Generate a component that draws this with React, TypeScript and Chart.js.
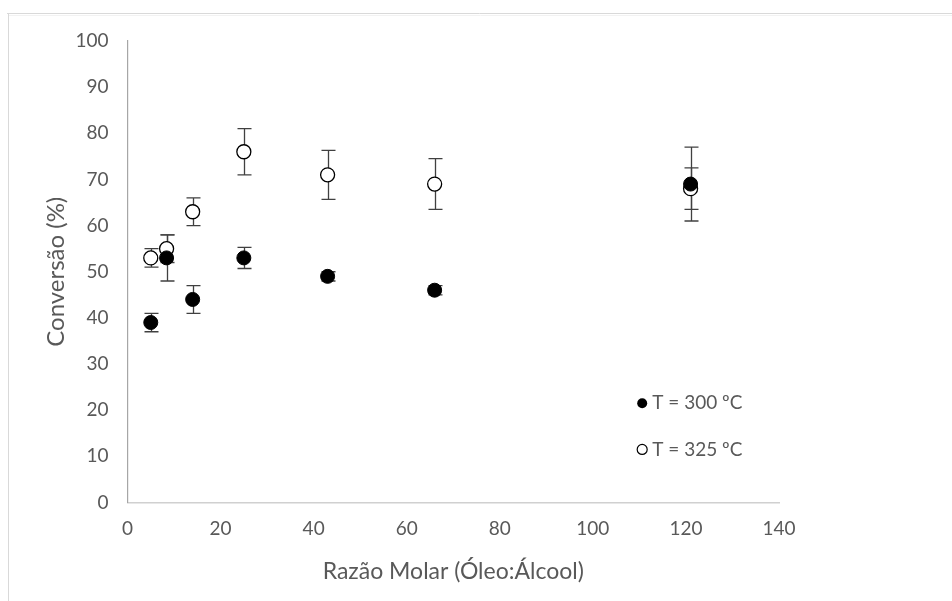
import React, { useEffect, useRef } from "react";
import { Chart, registerables } from "chart.js";

Chart.register(...registerables);

// Razão molar (Óleo:Álcool)
const razao300 = [5, 8.4, 14, 25, 43, 66, 121];
const conversao300 = [39, 53, 44, 53, 49, 46, 69];
const erro300 = [2, 5, 3, 2.3, 1, 1, 8];

const razao325 = [5, 8.4, 14, 25, 43, 66, 121];
const conversao325 = [53, 55, 63, 76, 71, 69, 68];
const erro325 = [2, 3, 3, 5, 5.3, 5.5, 4.5];

const legendLabels = ["T = 300 ºC", "T = 325 ºC"];
const xTitle = "Razão Molar (Óleo:Álcool)";
const yTitle = "Conversão (%)";

const FONT = "Lato, 'Open Sans', sans-serif";
const TEXT = "#595959";

const framePlugin = {
  id: "frame",
  beforeDraw(chart: any) {
    const { ctx, width, height } = chart;
    ctx.save();
    ctx.fillStyle = "#ffffff";
    ctx.fillRect(0, 0, width, height);
    ctx.strokeStyle = "#d9d9d9";
    ctx.lineWidth = 1;
    ctx.beginPath();
    ctx.moveTo(7, 13.5);
    ctx.lineTo(width, 13.5);
    ctx.moveTo(8.5, 13);
    ctx.lineTo(8.5, height);
    ctx.stroke();
    ctx.strokeStyle = "#f2f2f2";
    ctx.beginPath();
    ctx.moveTo(9, 15.5);
    ctx.lineTo(width, 15.5);
    ctx.stroke();
    ctx.restore();
  },
};

const errorBarPlugin = {
  id: "errorBars",
  beforeDatasetsDraw(chart: any) {
    const { ctx } = chart;
    const xs = chart.scales.x;
    const ys = chart.scales.y;
    const groups: [number[], number[], number[]][] = [
      [razao325, conversao325, erro325],
      [razao300, conversao300, erro300],
    ];
    ctx.save();
    ctx.strokeStyle = "#404040";
    ctx.lineWidth = 1.3;
    groups.forEach(([rx, cy, er]) => {
      rx.forEach((xv, i) => {
        const px = Math.round(xs.getPixelForValue(xv)) + 0.5;
        const top = ys.getPixelForValue(cy[i] + er[i]);
        const bot = ys.getPixelForValue(cy[i] - er[i]);
        const cap = 7;
        ctx.beginPath();
        ctx.moveTo(px, top);
        ctx.lineTo(px, bot);
        ctx.moveTo(px - cap, top);
        ctx.lineTo(px + cap, top);
        ctx.moveTo(px - cap, bot);
        ctx.lineTo(px + cap, bot);
        ctx.stroke();
      });
    });
    ctx.restore();
  },
};

const legendPlugin = {
  id: "customLegend",
  afterDraw(chart: any) {
    const { ctx, chartArea } = chart;
    const w = chartArea.right - chartArea.left;
    const h = chartArea.bottom - chartArea.top;
    const mx = chartArea.left + w * 0.79;
    const rows = [chartArea.top + h * 0.785, chartArea.top + h * 0.885];
    ctx.save();
    ctx.font = `19px ${FONT}`;
    ctx.textBaseline = "middle";
    rows.forEach((ry, i) => {
      ctx.beginPath();
      ctx.arc(mx, ry, 5, 0, Math.PI * 2);
      if (i === 0) {
        ctx.fillStyle = "#000000";
        ctx.fill();
      } else {
        ctx.fillStyle = "#ffffff";
        ctx.fill();
        ctx.strokeStyle = "#000000";
        ctx.lineWidth = 1.2;
        ctx.stroke();
      }
      ctx.fillStyle = TEXT;
      ctx.fillText(legendLabels[i], mx + 10, ry);
    });
    ctx.restore();
  },
};

export default function App() {
  const ref = useRef<HTMLCanvasElement>(null);

  useEffect(() => {
    if (!ref.current) return;
    const chart = new Chart(ref.current, {
      type: "scatter",
      data: {
        datasets: [
          {
            label: legendLabels[0],
            data: razao300.map((x, i) => ({ x, y: conversao300[i] })),
            backgroundColor: "#000000",
            borderColor: "#000000",
            borderWidth: 1,
            pointRadius: 7,
          },
          {
            label: legendLabels[1],
            data: razao325.map((x, i) => ({ x, y: conversao325[i] })),
            backgroundColor: "#ffffff",
            borderColor: "#000000",
            borderWidth: 1.3,
            pointRadius: 7,
          },
        ],
      },
      options: {
        responsive: false,
        animation: false,
        devicePixelRatio: 1,
        layout: { padding: { left: 0, right: 173, top: 41, bottom: 0 } },
        plugins: {
          legend: { display: false },
          tooltip: { enabled: false },
        },
        scales: {
          x: {
            type: "linear",
            min: 0,
            max: 140,
            ticks: {
              stepSize: 20,
              color: TEXT,
              font: { family: FONT, size: 19 },
              padding: 15,
            },
            grid: { display: false, drawTicks: false },
            border: { display: true, color: "#d0d0d0", width: 1.5 },
            title: {
              display: true,
              text: xTitle,
              color: TEXT,
              font: { family: FONT, size: 23 },
              padding: { top: 0, bottom: 16 },
            },
            afterFit(scale: any) {
              scale.height = 98.5;
            },
          },
          y: {
            type: "linear",
            min: 0,
            max: 100,
            ticks: {
              stepSize: 10,
              color: TEXT,
              font: { family: FONT, size: 19 },
              padding: 19,
            },
            grid: { display: false, drawTicks: false },
            border: { display: true, color: "#a6a6a6", width: 1.2 },
            title: {
              display: true,
              text: yTitle,
              color: TEXT,
              font: { family: FONT, size: 24 },
              padding: 42,
            },
            afterFit(scale: any) {
              scale.width = 127.5;
            },
          },
        },
      },
      plugins: [framePlugin, errorBarPlugin, legendPlugin],
    });
    return () => chart.destroy();
  }, []);

  return (
    <div
      style={{
        position: "fixed",
        left: 0,
        top: 0,
        width: 952,
        height: 601,
        background: "#ffffff",
      }}
    >
      <canvas ref={ref} width={952} height={601} style={{ display: "block" }} />
    </div>
  );
}
